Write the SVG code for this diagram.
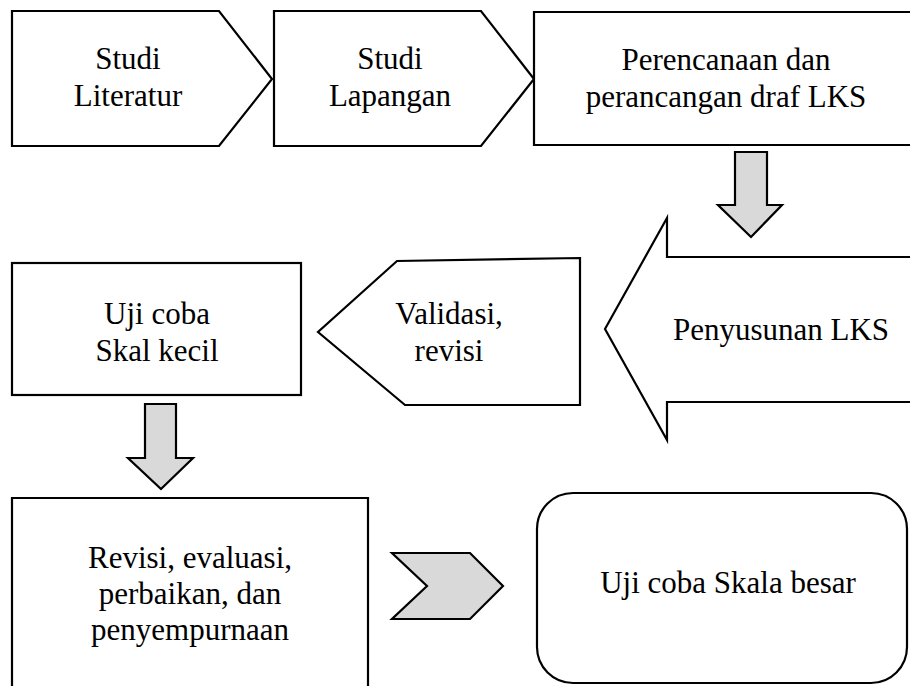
<svg xmlns="http://www.w3.org/2000/svg" width="910" height="686" viewBox="0 0 910 686">
<style>
.box{fill:#fff;stroke:#000;stroke-width:2.2;stroke-linejoin:miter}
.arr{fill:#d9d9d9;stroke:#000;stroke-width:2.2;stroke-linejoin:miter}
.t{font-family:'Liberation Serif','DejaVu Serif',serif;font-size:31px;fill:#000;text-anchor:middle}
</style>
<rect width="910" height="686" fill="#fff"/>
<g id="studi-literatur">
<path class="box" d="M12 11 H219 L272 79 L219 146 H12 Z"/>
<text class="t" font-family="Liberation Serif, DejaVu Serif, serif" x="128" y="69">Studi</text>
<text class="t" font-family="Liberation Serif, DejaVu Serif, serif" x="128" y="106">Literatur</text>
</g>
<g id="studi-lapangan">
<path class="box" d="M274 11 H481 L534 79 L481 146 H274 Z"/>
<text class="t" font-family="Liberation Serif, DejaVu Serif, serif" x="390" y="69">Studi</text>
<text class="t" font-family="Liberation Serif, DejaVu Serif, serif" x="390" y="106">Lapangan</text>
</g>
<g id="perencanaan">
<path class="box" d="M914 12 H534 V145 H914"/>
<text class="t" font-family="Liberation Serif, DejaVu Serif, serif" x="726" y="70">Perencanaan dan</text>
<text class="t" font-family="Liberation Serif, DejaVu Serif, serif" x="726" y="107">perancangan draf LKS</text>
</g>
<g id="penyusunan">
<path class="box" d="M914 257 H667 V218 L605 329 L667 440 V402 H914"/>
<text class="t" font-family="Liberation Serif, DejaVu Serif, serif" x="781" y="340">Penyusunan LKS</text>
</g>
<g id="validasi">
<path class="box" d="M580 258 V405 H405 L318 332 L397 261 Z"/>
<text class="t" font-family="Liberation Serif, DejaVu Serif, serif" x="449" y="324">Validasi,</text>
<text class="t" font-family="Liberation Serif, DejaVu Serif, serif" x="449" y="361">revisi</text>
</g>
<g id="uji-kecil">
<rect class="box" x="12" y="263" width="289" height="132"/>
<text class="t" font-family="Liberation Serif, DejaVu Serif, serif" x="157" y="324">Uji coba</text>
<text class="t" font-family="Liberation Serif, DejaVu Serif, serif" x="157" y="361">Skal kecil</text>
</g>
<g id="revisi">
<path class="box" d="M12 690 V498 H368 V690"/>
<text class="t" font-family="Liberation Serif, DejaVu Serif, serif" x="190" y="568">Revisi, evaluasi,</text>
<text class="t" font-family="Liberation Serif, DejaVu Serif, serif" x="190" y="604">perbaikan, dan</text>
<text class="t" font-family="Liberation Serif, DejaVu Serif, serif" x="190" y="640">penyempurnaan</text>
</g>
<g id="uji-besar">
<rect class="box" x="537" y="493" width="370" height="190" rx="36" ry="36"/>
<text class="t" font-family="Liberation Serif, DejaVu Serif, serif" x="728" y="593">Uji coba Skala besar</text>
</g>
<g id="connectors">
<path class="arr" d="M735 152 H767 V205 H782 L751 237 L718 205 H735 Z"/>
<path class="arr" d="M145 404 H176 V458 H193 L161 489 L128 458 H145 Z"/>
<path class="arr" d="M392 553 H470 L503 586 L470 619 H392 L427 586 Z"/>
</g>
</svg>
